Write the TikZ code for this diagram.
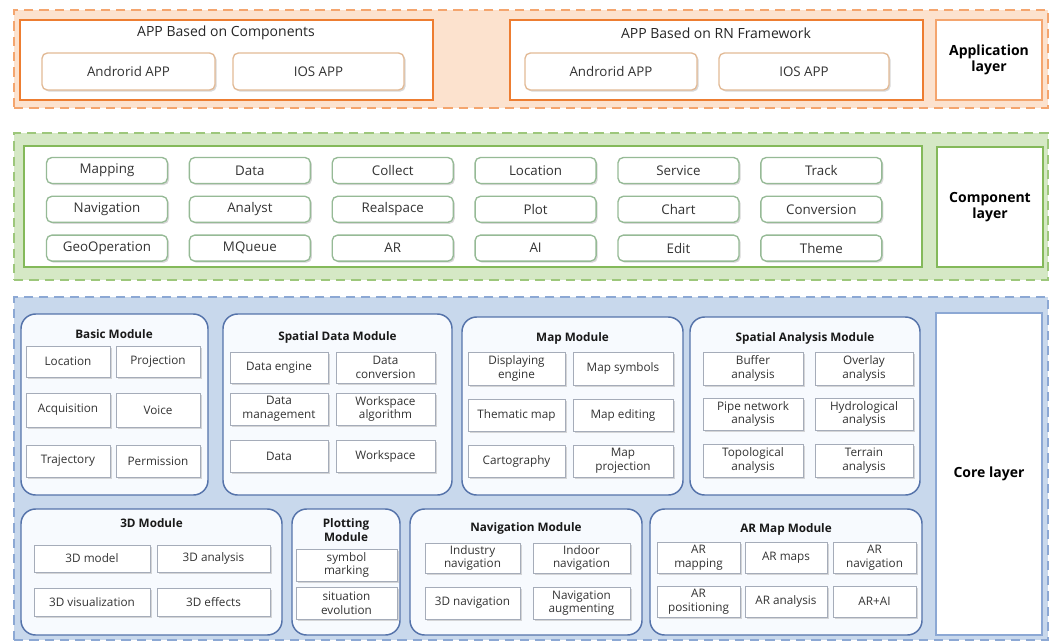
\documentclass[tikz,border=0pt]{standalone}
\usepackage{fontspec}
\setmainfont{Open Sans}
\usepackage{xcolor}
\usetikzlibrary{positioning,shadows}

\definecolor{apporange}{RGB}{237,125,49}
\definecolor{appdash}{RGB}{244,165,110}
\definecolor{applight}{RGB}{252,226,206}
\definecolor{appcellline}{RGB}{226,186,150}
\definecolor{compgreen}{RGB}{132,185,90}
\definecolor{complight}{RGB}{213,232,197}
\definecolor{compcellline}{RGB}{150,186,150}
\definecolor{coreblue}{RGB}{140,168,212}
\definecolor{corelight}{RGB}{200,216,236}
\definecolor{modline}{RGB}{85,115,170}
\definecolor{modfill}{RGB}{247,250,254}
\definecolor{cellline}{RGB}{165,172,185}

\tikzset{
    area/.style args={(#1,#2) (#3,#4)}{at={({(#1+#3)/2},{(#2+#4)/2})},
        minimum width={(#3-#1)*0.75pt}, minimum height={(#4-#2)*0.75pt}},
    layer/.style={draw, line width=1.5pt, dash pattern=on 7pt off 4.5pt, inner sep=0pt},
    labelbox/.style={draw, fill=white, line width=1.5pt, inner sep=0pt, align=center,
        font=\fontsize{10.5}{12.5}\selectfont\bfseries},
    appgroup/.style={draw=apporange, fill=white, line width=1.3pt, inner sep=0pt},
    apptitle/.style={font=\fontsize{10.5}{12}\selectfont, text=black!85},
    appcell/.style={draw=appcellline, fill=white, rounded corners=4pt, line width=1pt, inner sep=0pt,
        drop shadow={shadow xshift=1.2pt, shadow yshift=-1.2pt, fill=black!30},
        font=\fontsize{10}{12}\selectfont, text=black!80},
    compframe/.style={draw=compgreen, fill=white, line width=1.3pt, inner sep=0pt},
    comp/.style={draw=compcellline, fill=white, rounded corners=4pt, line width=1pt,
        minimum width=90.75pt, minimum height=19.5pt, inner sep=0pt,
        drop shadow={shadow xshift=1.2pt, shadow yshift=-1.2pt, fill=black!30},
        font=\fontsize{10}{12}\selectfont, text=black!80},
    module/.style={draw=modline, fill=modfill, rounded corners=11pt, line width=1.1pt, inner sep=0pt},
    modtitle/.style={font=\fontsize{8.8}{10.5}\selectfont\bfseries, align=center, text=black!90},
    cell/.style={draw=cellline, fill=white, line width=0.6pt, inner sep=0pt, align=center,
        drop shadow={shadow xshift=1.2pt, shadow yshift=-1.2pt, fill=black!30},
        font=\fontsize{8.8}{10.3}\selectfont, text=black!80}
}

\begin{document}
\begin{tikzpicture}[x=0.75pt, y=-0.75pt, node distance=8.6pt and 15.4pt]
    \useasboundingbox (0,0) rectangle (1053,643);

    % application layer
    \node[layer, draw=appdash, fill=applight, area={(14,10) (1048,108)}] (applayer) {};
    \node[appgroup, area={(20,20) (433,100)}] (compapp) {};
    \node[apptitle] (compapptitle) at (226,33) {APP Based on Components};
    \node[appcell, area={(42,53) (215,90)}]   (compandroid) {Androrid APP};
    \node[appcell, area={(233,53) (404,90)}]  (compios)     {IOS APP};
    \node[appgroup, area={(510,20) (923,100)}] (rnapp) {};
    \node[apptitle] (rnapptitle) at (716,33) {APP Based on RN Framework};
    \node[appcell, area={(525,53) (697,90)}]  (rnandroid) {Androrid APP};
    \node[appcell, area={(719,53) (889,90)}]  (rnios)     {IOS APP};
    \node[labelbox, draw=appdash, area={(936,20) (1042,100)}] (applabel) {Application\\layer};

    % component layer
    \node[layer, draw=compgreen!80, fill=complight, area={(14,133) (1048,280)}] (complayer) {};
    \node[compframe, area={(24,146) (922,267)}] (compinner) {};
    \node[comp]                       (mapping)      at (107,170.5) {Mapping};
    \node[comp, right=of mapping]     (data)         {Data};
    \node[comp, right=of data]        (collect)      {Collect};
    \node[comp, right=of collect]     (location)     {Location};
    \node[comp, right=of location]    (service)      {Service};
    \node[comp, right=of service]     (track)        {Track};
    \node[comp, below=of mapping]     (navigation)   {Navigation};
    \node[comp, right=of navigation]  (analyst)      {Analyst};
    \node[comp, right=of analyst]     (realspace)    {Realspace};
    \node[comp, right=of realspace]   (plot)         {Plot};
    \node[comp, right=of plot]        (chart)        {Chart};
    \node[comp, right=of chart]       (conversion)   {Conversion};
    \node[comp, below=of navigation]  (geooperation) {GeoOperation};
    \node[comp, right=of geooperation] (mqueue)      {MQueue};
    \node[comp, right=of mqueue]      (ar)           {AR};
    \node[comp, right=of ar]          (ai)           {AI};
    \node[comp, right=of ai]          (edit)         {Edit};
    \node[comp, right=of edit]        (theme)        {Theme};
    \node[labelbox, draw=compgreen, area={(937,147) (1043,267)}] (complabel) {Component\\layer};

    % core layer
    \node[layer, draw=coreblue, fill=corelight, area={(14,297) (1048,640)}] (corelayer) {};
    \node[labelbox, draw=coreblue, area={(936,313) (1042,635)}] (corelabel) {Core layer};

    % basic module
    \node[module, area={(21,314) (208,495)}] (basic) {};
    \node[modtitle] (basictitle) at (114,334) {Basic Module};
    \node[cell, area={(26,346) (110,377)}]  (blocation)    {Location};
    \node[cell, area={(116,346) (200,377)}] (bprojection)  {Projection};
    \node[cell, area={(26,393) (110,427)}]  (bacquisition) {Acquisition};
    \node[cell, area={(116,393) (200,427)}] (bvoice)       {Voice};
    \node[cell, area={(26,445) (110,477)}]  (btrajectory)  {Trajectory};
    \node[cell, area={(116,445) (200,477)}] (bpermission)  {Permission};

    % spatial data module
    \node[module, area={(223,314) (452,495)}] (spdata) {};
    \node[modtitle] (spdatatitle) at (337.5,337) {Spatial Data Module};
    \node[cell, area={(230,352) (328,383)}] (sdengine)     {Data engine};
    \node[cell, area={(336,352) (435,383)}] (sdconversion) {Data\\conversion};
    \node[cell, area={(230,393) (328,425)}] (sdmanagement) {Data\\management};
    \node[cell, area={(336,393) (435,425)}] (sdalgorithm)  {Workspace\\algorithm};
    \node[cell, area={(230,440) (328,472)}] (sddata)       {Data};
    \node[cell, area={(336,440) (435,472)}] (sdworkspace)  {Workspace};

    % map module
    \node[module, area={(462,317) (683,495)}] (mapmod) {};
    \node[modtitle] (mapmodtitle) at (572.5,338) {Map Module};
    \node[cell, area={(468,352) (565,385)}] (mdisplay)    {Displaying\\engine};
    \node[cell, area={(573,352) (673,385)}] (msymbols)    {Map symbols};
    \node[cell, area={(468,399) (565,431)}] (mthematic)   {Thematic map};
    \node[cell, area={(573,399) (673,431)}] (mediting)    {Map editing};
    \node[cell, area={(468,445) (565,477)}] (mcarto)      {Cartography};
    \node[cell, area={(573,445) (673,477)}] (mprojection) {Map\\projection};

    % spatial analysis module
    \node[module, area={(690,317) (920,495)}] (spanalysis) {};
    \node[modtitle] (spanalysistitle) at (805,338) {Spatial Analysis Module};
    \node[cell, area={(703,352) (803,385)}] (abuffer)      {Buffer\\analysis};
    \node[cell, area={(815,352) (913,385)}] (aoverlay)     {Overlay\\analysis};
    \node[cell, area={(703,398) (803,430)}] (apipe)        {Pipe network\\analysis};
    \node[cell, area={(815,398) (913,430)}] (ahydro)       {Hydrological\\analysis};
    \node[cell, area={(703,444) (803,477)}] (atopo)        {Topological\\analysis};
    \node[cell, area={(815,444) (913,477)}] (aterrain)     {Terrain\\analysis};

    % 3d module
    \node[module, area={(21,509) (282,635)}] (threed) {};
    \node[modtitle] (threedtitle) at (151.5,523) {3D Module};
    \node[cell, area={(34,545) (150,572)}]  (tmodel)    {3D model};
    \node[cell, area={(157,545) (270,572)}] (tanalysis) {3D analysis};
    \node[cell, area={(34,588) (150,616)}]  (tvisual)   {3D visualization};
    \node[cell, area={(157,588) (270,616)}] (teffects)  {3D effects};

    % plotting module
    \node[module, area={(292,509) (400,635)}] (plotting) {};
    \node[modtitle] (plottingtitle) at (346,530) {Plotting\\Module};
    \node[cell, area={(296,549) (397,581)}] (psymbol)    {symbol\\marking};
    \node[cell, area={(296,587) (397,619)}] (psituation) {situation\\evolution};

    % navigation module
    \node[module, area={(410,509) (642,635)}] (navmod) {};
    \node[modtitle] (navmodtitle) at (526,528) {Navigation Module};
    \node[cell, area={(425,543) (520,573)}] (nindustry) {Industry\\navigation};
    \node[cell, area={(533,543) (630,573)}] (nindoor)   {Indoor\\navigation};
    \node[cell, area={(425,587) (520,619)}] (nthreed)   {3D navigation};
    \node[cell, area={(533,587) (630,619)}] (naugment)  {Navigation\\augmenting};

    % ar map module
    \node[module, area={(650,509) (922,635)}] (armod) {};
    \node[modtitle] (armodtitle) at (786,529) {AR Map Module};
    \node[cell, area={(657,542) (740,573)}] (armapping)  {AR\\mapping};
    \node[cell, area={(745,542) (827,573)}] (armaps)     {AR maps};
    \node[cell, area={(833,542) (916,573)}] (arnav)      {AR\\navigation};
    \node[cell, area={(657,586) (740,617)}] (arposition) {AR\\positioning};
    \node[cell, area={(745,586) (827,617)}] (aranalysis) {AR analysis};
    \node[cell, area={(833,586) (916,617)}] (arai)       {AR+AI};
\end{tikzpicture}
\end{document}
